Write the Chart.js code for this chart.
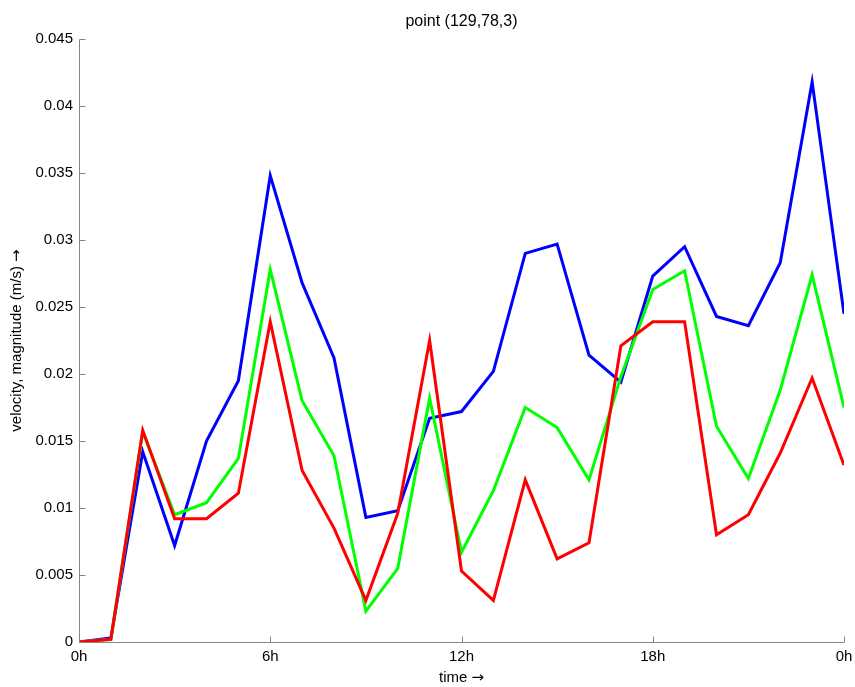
<!DOCTYPE html>
<html>
<head>
<meta charset="utf-8">
<script src="https://cdn.jsdelivr.net/npm/chart.js@4.4.1/dist/chart.umd.min.js"></script>
<style>
html,body{margin:0;padding:0;background:#fff;}
#wrap{width:855px;height:687px;position:relative;}
</style>
</head>
<body>
<div id="wrap"><canvas id="c" width="855" height="687"></canvas></div>
<script>
const hours = [0,1,2,3,4,5,6,7,8,9,10,11,12,13,14,15,16,17,18,19,20,21,22,23,24];
const blueSeries = [0, 0.0003, 0.0142, 0.0072, 0.0150, 0.0195, 0.0348, 0.0268, 0.0212, 0.0093, 0.0098, 0.0167, 0.0172, 0.0202, 0.0290, 0.0297, 0.0214, 0.0194, 0.0273, 0.0295, 0.0243, 0.0236, 0.0283, 0.0418, 0.0245];
const greenSeries = [0, 0.0002, 0.0157, 0.0095, 0.0104, 0.0137, 0.0278, 0.0180, 0.0139, 0.0023, 0.0055, 0.0182, 0.0067, 0.0113, 0.0175, 0.0160, 0.0121, 0.0198, 0.0263, 0.0277, 0.0161, 0.0122, 0.0188, 0.0274, 0.0175];
const redSeries = [0, 0.0002, 0.0158, 0.0092, 0.0092, 0.0111, 0.0239, 0.0128, 0.0085, 0.0031, 0.0096, 0.0225, 0.0053, 0.0031, 0.0121, 0.0062, 0.0074, 0.0221, 0.0239, 0.0239, 0.0080, 0.0095, 0.0141, 0.0197, 0.0132];
const xTickValues = [0, 6, 12, 18, 24];
const xTickLabels = ['0h', '6h', '12h', '18h', '0h'];
const yTickValues = [0, 0.005, 0.01, 0.015, 0.02, 0.025, 0.03, 0.035, 0.04, 0.045];
const yTickLabels = ['0', '0.005', '0.01', '0.015', '0.02', '0.025', '0.03', '0.035', '0.04', '0.045'];
const titleText = 'point (129,78,3)';
const xTitleWord = 'time ';
const yTitleWord = 'velocity, magnitude (m/s) ';
const arrowGlyph = '\u2192';

const FONT = '"Liberation Sans", Arial, Helvetica, sans-serif';
const ARROW_FONT = '"DejaVu Sans", sans-serif';
const AXIS_COLOR = '#858585';

function toPoints(arr){ return hours.map((h,i)=>({x:h, y:arr[i]})); }

function drawTitleWithArrow(ctx, word, cx, cy, rot){
  ctx.save();
  ctx.translate(cx, cy);
  ctx.rotate(rot);
  ctx.fillStyle = '#000';
  ctx.textBaseline = 'middle';
  ctx.textAlign = 'left';
  ctx.font = '15px ' + FONT;
  const w1 = ctx.measureText(word).width;
  ctx.font = '15px ' + ARROW_FONT;
  const w2 = ctx.measureText(arrowGlyph).width;
  const start = -(w1 + w2) / 2;
  ctx.font = '15px ' + FONT;
  ctx.fillText(word, start, 0);
  ctx.font = '15px ' + ARROW_FONT;
  ctx.fillText(arrowGlyph, start + w1, 0);
  ctx.restore();
}

const innerTicks = {
  id: 'innerTicks',
  afterDraw(chart){
    const ctx = chart.ctx;
    const xs = chart.scales.x, ys = chart.scales.y;
    const L = 6;
    ctx.save();
    ctx.strokeStyle = AXIS_COLOR;
    ctx.lineWidth = 1;
    ctx.beginPath();
    const left = Math.round(xs.getPixelForValue(0)) + 0.5;
    const bottom = Math.round(ys.getPixelForValue(0)) + 0.5;
    xTickValues.forEach(v=>{
      const px = Math.round(xs.getPixelForValue(v)) + 0.5;
      ctx.moveTo(px, bottom); ctx.lineTo(px, bottom - L);
    });
    yTickValues.forEach(v=>{
      const py = Math.round(ys.getPixelForValue(v)) + 0.5;
      ctx.moveTo(left, py); ctx.lineTo(left + L, py);
    });
    ctx.moveTo(left, Math.round(ys.getPixelForValue(0.045)) + 0.5);
    ctx.lineTo(left, bottom);
    ctx.lineTo(Math.round(xs.getPixelForValue(24)) + 0.5, bottom);
    ctx.stroke();
    ctx.restore();
    const ca = chart.chartArea;
    drawTitleWithArrow(ctx, xTitleWord, (ca.left + ca.right) / 2, 678, 0);
    drawTitleWithArrow(ctx, yTitleWord, 17, (ca.top + ca.bottom) / 2, -Math.PI / 2);
  }
};

new Chart(document.getElementById('c'), {
  type: 'line',
  data: {
    datasets: [
      {label:'blue', data: toPoints(blueSeries), borderColor:'#0000ff', order:2},
      {label:'green', data: toPoints(greenSeries), borderColor:'#00ff00', order:1},
      {label:'red', data: toPoints(redSeries), borderColor:'#ff0000', order:0}
    ]
  },
  options: {
    responsive: false,
    animation: false,
    devicePixelRatio: 1,
    layout: { padding: { left: 0, right: 11, top: 0, bottom: 0 } },
    elements: {
      line: { borderWidth: 3, tension: 0, fill: false },
      point: { radius: 0, hoverRadius: 0 }
    },
    plugins: {
      legend: { display: false },
      tooltip: { enabled: false },
      title: {
        display: true,
        text: titleText,
        fullSize: false,
        color: '#000',
        font: { family: FONT, size: 16, weight: 'normal', lineHeight: 1.2 },
        padding: { top: 12, bottom: 7.8 }
      }
    },
    scales: {
      x: {
        type: 'linear',
        min: 0, max: 24,
        afterFit(s){ s.height = 45; s.paddingLeft = 0; s.paddingRight = 0; },
        afterBuildTicks(s){ s.ticks = xTickValues.map(v=>({value:v})); },
        grid: { display: false, drawTicks: false },
        border: { display: false },
        ticks: {
          color: '#000',
          padding: 6,
          maxRotation: 0,
          font: { family: FONT, size: 15 },
          callback(v){ const i = xTickValues.indexOf(v); return i >= 0 ? xTickLabels[i] : ''; }
        },
        title: { display: false }
      },
      y: {
        type: 'linear',
        min: 0, max: 0.045,
        afterFit(s){ s.width = 79; s.paddingTop = 0; s.paddingBottom = 0; },
        afterBuildTicks(s){ s.ticks = yTickValues.map(v=>({value:v})); },
        grid: { display: false, drawTicks: false },
        border: { display: false },
        ticks: {
          color: '#000',
          padding: 6,
          font: { family: FONT, size: 15 },
          callback(v){ const i = yTickValues.findIndex(t=>Math.abs(t-v)<1e-9); return i >= 0 ? yTickLabels[i] : ''; }
        },
        title: { display: false }
      }
    }
  },
  plugins: [innerTicks]
});
</script>
</body>
</html>
